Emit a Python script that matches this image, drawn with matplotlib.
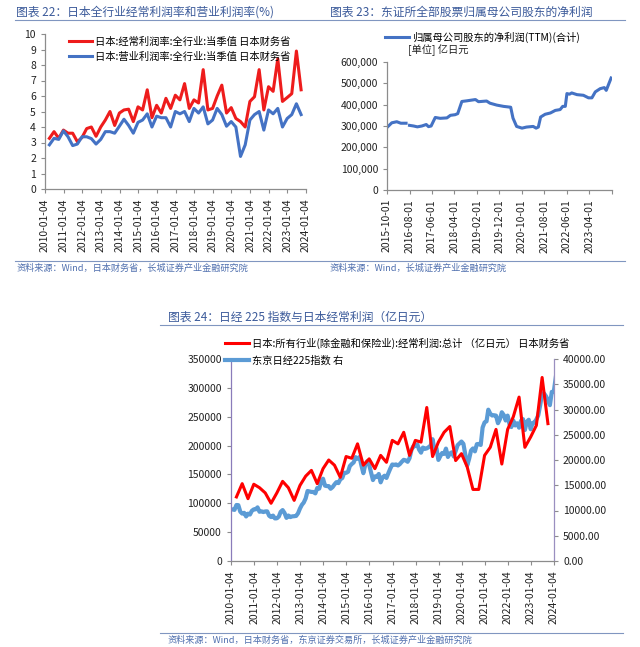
import matplotlib
matplotlib.use('Agg')
import matplotlib.pyplot as plt
import matplotlib.ticker as mticker
import numpy as np
import pandas as pd

plt.rcParams['font.family'] = ['Noto Sans CJK SC', 'DejaVu Sans']
plt.rcParams['axes.unicode_minus'] = False

# ---- 图表22 data (quarterly, %) ----
q_dates = pd.date_range('2010-03-31', periods=55, freq='QE')
ordinary_margin = [3.27, 3.7, 3.27, 3.8, 3.6, 3.6, 3.05, 3.33, 3.9, 4.0, 3.4, 4.0, 4.45, 5.0,
                   4.1, 4.9, 5.1, 5.15, 4.35, 5.3, 5.1, 6.4, 4.6, 5.4, 4.9, 5.85, 5.2, 6.05,
                   5.75, 6.8, 5.2, 5.75, 5.55, 7.7, 5.1, 5.2, 6.0, 6.7, 4.9, 5.25, 4.55, 4.35,
                   4.0, 5.65, 5.95, 7.7, 5.1, 6.6, 6.3, 8.4, 5.65, 5.9, 6.15, 8.9, 6.4]
operating_margin = [2.85, 3.27, 3.2, 3.75, 3.37, 2.8, 2.9, 3.37, 3.37, 3.25, 2.9, 3.2, 3.7, 3.7,
                    3.6, 4.05, 4.5, 4.1, 3.6, 4.3, 4.45, 4.85, 4.0, 4.7, 4.6, 4.6, 4.0, 5.0,
                    4.85, 5.0, 4.35, 5.2, 4.9, 5.3, 4.2, 4.45, 5.2, 4.8, 4.05, 4.35, 4.0, 2.1,
                    2.85, 4.45, 4.8, 5.0, 3.8, 5.1, 4.85, 5.2, 4.0, 4.55, 4.8, 5.5, 4.8]
year_ticks = ['%d-01-04' % y for y in range(2010, 2025)]

# ---- 图表23 data (亿日元) ----
np_dates = ['2015-10-01', '2015-12-05', '2016-02-10', '2016-04-05', '2016-06-15', '2016-07-15',
            '2016-08-01', '2016-09-25', '2016-11-15', '2017-01-15', '2017-03-15', '2017-04-15',
            '2017-05-20', '2017-07-15', '2017-09-20', '2017-12-20', '2018-02-05', '2018-04-10',
            '2018-05-15', '2018-07-10', '2018-09-15', '2019-01-10', '2019-02-20', '2019-06-10',
            '2019-07-25', '2019-10-25', '2020-01-25', '2020-05-01', '2020-06-01', '2020-07-20',
            '2020-10-01', '2020-12-01', '2021-03-01', '2021-04-10', '2021-05-10', '2021-06-10',
            '2021-08-10', '2021-10-20', '2021-12-25', '2022-03-01', '2022-04-05', '2022-05-10',
            '2022-06-01', '2022-07-05', '2022-08-05', '2022-10-15', '2023-01-10', '2023-03-20',
            '2023-05-05', '2023-06-20', '2023-08-25', '2023-10-20', '2023-11-15', '2024-01-20']
np_values = [293000, 315000, 320000, 313000, 313000, np.nan,
             303000, 300000, 296000, 300000, 307000, 297000,
             300000, 340000, 336000, 338000, 350000, 353000,
             358000, 415000, 418000, 424000, 414000, 417000,
             407000, 398000, 392000, 388000, 337000, 298000,
             290000, 295000, 298000, 290000, 295000, 342000,
             355000, 361000, 373000, 377000, 392000, 392000,
             452000, 449000, 455000, 447000, 444000, 432000,
             432000, 460000, 475000, 480000, 467000, 525000]
np_ticks = ['2015-10-01', '2016-08-01', '2017-06-01', '2018-04-01', '2019-02-01', '2019-12-01',
            '2020-10-01', '2021-08-01', '2022-06-01', '2023-04-01', '2024-02-01']

# ---- 图表24 data ----
ordinary_profit = [111000, 134000, 108000, 133000, 127000, 118000, 100000, 118000, 138000, 127000,
                   105000, 131000, 147000, 157000, 134000, 160000, 175000, 166000, 145000, 181000,
                   178000, 203000, 166000, 177000, 160000, 183000, 171000, 209000, 203000, 223000,
                   183000, 209000, 206000, 266000, 181000, 206000, 223000, 233000, 174000, 186000,
                   163000, 124000, 124000, 183000, 197000, 228000, 168000, 228000, 250000, 284000,
                   197000, 215000, 235000, 318000, 238000]
nikkei_dates = pd.date_range('2010-01-31', '2024-01-31', freq='ME')
nikkei = [10198, 10126, 11089, 11057, 9768, 9382, 9537, 8824, 9369, 9202, 9937, 10228,
          10237, 10624, 9755, 9849, 9693, 9816, 9833, 8955, 8700, 8988, 8434, 8455,
          8802, 9723, 10083, 9520, 8542, 9006, 8695, 8839, 8870, 8928, 9446, 10395,
          11138, 11559, 12397, 13860, 13774, 13677, 13668, 13388, 14455, 14327, 15662, 16291,
          14914, 14841, 14828, 14304, 14632, 15162, 15621, 15425, 16174, 16414, 17460, 17451,
          17674, 18798, 19207, 19520, 20563, 20236, 20585, 18890, 17388, 19083, 19747, 19034,
          17518, 16027, 16759, 16666, 17235, 15576, 16569, 16887, 16450, 17425, 18308, 19114,
          19041, 19119, 18909, 19197, 19651, 20033, 19925, 19646, 20356, 22012, 22725, 22765,
          23098, 22068, 21454, 22468, 22202, 22305, 22554, 22865, 24120, 21920, 22351, 20015,
          20773, 21385, 21206, 22259, 20601, 21276, 21522, 20704, 21756, 22927, 23294, 23657,
          23205, 21143, 18917, 20194, 21878, 22288, 21710, 23140, 23185, 22977, 26434, 27444,
          27663, 29966, 29179, 28813, 28860, 28792, 27284, 28090, 29453, 28893, 27822, 28792,
          27002, 26527, 27821, 26848, 27280, 26393, 27802, 28092, 25937, 27587, 27969, 26095,
          27327, 27446, 28041, 28856, 30888, 33189, 33172, 32619, 31858, 30859, 33487, 33464,
          36287]

W, H = 640, 647
fig = plt.figure(figsize=(W / 100, H / 100), dpi=100)


def rect(x0, y0, x1, y1):
    # pixel box (top-left origin) -> figure fraction
    return [x0 / W, 1 - y1 / H, (x1 - x0) / W, (y1 - y0) / H]


def fx(x):
    return x / W


def fy(y):
    return 1 - y / H


title_c = '#3b5a9a'
note_c = '#4f6fae'
spine_c = '#8c8c8c'
tick_fs = 7.5


def style_axes(ax):
    for s in ['top', 'right']:
        ax.spines[s].set_visible(False)
    for s in ['left', 'bottom']:
        ax.spines[s].set_color(spine_c)
        ax.spines[s].set_linewidth(0.9)
    ax.tick_params(colors=spine_c, labelcolor='#222222', labelsize=tick_fs, length=3, width=0.8)


# ---------- 图表22 ----------
ax1 = fig.add_axes(rect(45, 34, 306, 189))
ax1.plot(q_dates, ordinary_margin, color='#ee1c1c', lw=2.2,
         label='日本:经常利润率:全行业:当季值 日本财务省')
ax1.plot(q_dates, operating_margin, color='#4472c4', lw=2.2,
         label='日本:营业利润率:全行业:当季值 日本财务省')
ax1.set_ylim(0, 10)
ax1.set_yticks(range(0, 11))
ax1.set_xlim(pd.Timestamp('2010-01-04'), pd.Timestamp('2024-01-04'))
ax1.set_xticks(pd.to_datetime(year_ticks))
ax1.set_xticklabels(year_ticks, rotation=90)
style_axes(ax1)
ax1.legend(loc='upper left', bbox_to_anchor=(0.075, 1.01), frameon=False, fontsize=7.4,
           handlelength=2.3, handletextpad=0.3, labelspacing=0.45, borderaxespad=0)

# ---------- 图表23 ----------
ax2 = fig.add_axes(rect(387, 62, 612, 190))
ax2.plot(pd.to_datetime(np_dates), np_values, color='#4472c4', lw=2.2,
         label='归属母公司股东的净利润(TTM)(合计)')
ax2.set_ylim(0, 600000)
ax2.set_yticks(range(0, 600001, 100000))
ax2.yaxis.set_major_formatter(mticker.FuncFormatter(lambda v, p: '{:,.0f}'.format(v)))
ax2.set_xlim(pd.Timestamp('2015-10-01'), pd.Timestamp('2024-02-01'))
ax2.set_xticks(pd.to_datetime(np_ticks))
ax2.set_xticklabels(np_ticks[:-1] + [''], rotation=90)
style_axes(ax2)
ax2.legend(loc='upper left', bbox_to_anchor=(-0.025, 1.27), frameon=False, fontsize=7.4,
           handlelength=2.3, handletextpad=0.3, borderaxespad=0)
fig.text(fx(408), fy(50), '[单位] 亿日元', fontsize=7.4, va='center', color='#222222')

# ---------- 图表24 ----------
ax3 = fig.add_axes(rect(231, 359, 554, 561))
ax4 = ax3.twinx()
l1, = ax3.plot(q_dates, ordinary_profit, color='#ff0000', lw=2.2, zorder=3,
               label='日本:所有行业(除金融和保险业):经常利润:总计 （亿日元） 日本财务省')
l2, = ax4.plot(nikkei_dates, nikkei, color='#5b9bd5', lw=3.0, zorder=2,
               label='东京日经225指数 右')
ax3.set_zorder(ax4.get_zorder() + 1)
ax3.patch.set_visible(False)
ax3.set_ylim(0, 350000)
ax3.set_yticks(range(0, 350001, 50000))
ax4.set_ylim(0, 40000)
ax4.set_yticks(range(0, 40001, 5000))
ax4.yaxis.set_major_formatter(mticker.FuncFormatter(lambda v, p: '%.2f' % v))
ax3.set_xlim(pd.Timestamp('2010-01-04'), pd.Timestamp('2024-01-04'))
ax3.set_xticks(pd.to_datetime(year_ticks))
ax3.set_xticklabels(year_ticks, rotation=90)
style_axes(ax3)
ax3.spines['left'].set_color('#8a7cba')
ax4.spines['top'].set_visible(False)
ax4.spines['left'].set_visible(False)
ax4.spines['bottom'].set_visible(False)
ax4.spines['right'].set_color('#9a8fc0')
ax4.spines['right'].set_linewidth(0.9)
ax4.tick_params(colors=spine_c, labelcolor='#222222', labelsize=tick_fs, length=3, width=0.8)
ax3.legend([l1, l2], [l1.get_label(), l2.get_label()], loc='upper left',
           bbox_to_anchor=(-0.03, 1.125), frameon=False, fontsize=7.4,
           handlelength=2.3, handletextpad=0.3, labelspacing=0.6, borderaxespad=0)

# ---------- titles, rules and notes ----------
fig.text(fx(16), fy(12), '图表 22：日本全行业经常利润率和营业利润率(%)', color=title_c,
         fontsize=8.5, style='italic', va='center')
fig.text(fx(330), fy(12), '图表 23：东证所全部股票归属母公司股东的净利润', color=title_c,
         fontsize=8.5, style='italic', va='center')
fig.add_artist(plt.Line2D([fx(15), fx(625)], [fy(19.5), fy(19.5)], color='#8096c0', lw=0.8))
fig.add_artist(plt.Line2D([fx(15), fx(625)], [fy(261), fy(261)], color='#8096c0', lw=0.8))
fig.text(fx(17), fy(268), '资料来源：Wind，日本财务省，长城证券产业金融研究院', color=note_c,
         fontsize=6.6, style='italic', va='center')
fig.text(fx(330), fy(268), '资料来源：Wind，长城证券产业金融研究院', color=note_c,
         fontsize=6.6, style='italic', va='center')

fig.text(fx(168), fy(317), '图表 24：日经 225 指数与日本经常利润（亿日元）', color=title_c,
         fontsize=8.5, style='italic', va='center')
fig.add_artist(plt.Line2D([fx(160), fx(623)], [fy(324.5), fy(324.5)], color='#8096c0', lw=0.8))
fig.add_artist(plt.Line2D([fx(160), fx(623)], [fy(633), fy(633)], color='#8096c0', lw=0.8))
fig.text(fx(168), fy(640), '资料来源：Wind，日本财务省，东京证券交易所，长城证券产业金融研究院',
         color=note_c, fontsize=6.6, style='italic', va='center')

fig.savefig('out.png', dpi=100, facecolor='white')
